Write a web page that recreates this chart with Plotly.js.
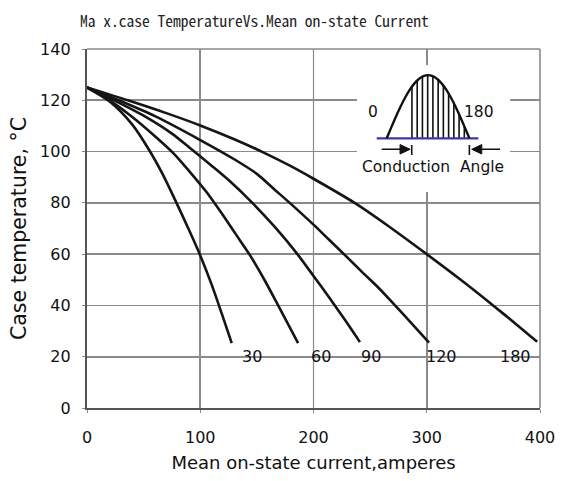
<!DOCTYPE html>
<html>
<head>
<meta charset="utf-8">
<script src="https://cdn.plot.ly/plotly-3.0.1.min.js"></script>
<style>html,body{margin:0;padding:0;background:#fff;}#chart{width:567px;height:481px;}</style>
</head>
<body>
<div id="chart"></div>
<script>
// ---- chart data ----
const curveNames = ['30', '60', '90', '120', '180'];

const x30  = [0, 20, 40, 55, 67, 79, 90, 100, 110, 119, 127.8];
const y30  = [125, 119.5, 110.5, 100.5, 91, 80, 69.5, 59.5, 48.2, 36.8, 25.3];

const x60  = [0, 20, 40, 60, 76, 90, 105, 118, 131, 143.3, 156, 168.2, 178, 186.4];
const y60  = [125, 120, 113.5, 106, 99.5, 92.5, 84.5, 76.5, 68, 60, 50.5, 40.5, 32.3, 25.3];

const x90  = [0, 24, 50, 75, 92, 110, 126, 146, 166, 185.8, 200, 214, 228, 241];
const y90  = [125, 120, 114, 107, 101, 94.5, 88.5, 80, 70.5, 60, 51.5, 43, 34.2, 25.7];

const x120 = [0, 28, 60, 100, 130, 150, 165.3, 179, 200, 214, 228, 243, 257.6, 272, 287, 302];
const y120 = [125, 120, 113.8, 104.5, 97, 91.3, 85.3, 80, 71.5, 65.5, 59.5, 53, 46.8, 40, 32.8, 25.5];

const x180 = [0, 36, 70, 100, 130, 156.5, 180, 200, 237, 266, 300, 330, 358.6, 380, 397.5];
const y180 = [125, 120, 115, 110.2, 104.8, 99.5, 94.3, 89.4, 79.8, 71, 60, 50, 40, 32.3, 25.8];

const xTickVals = [0, 100, 200, 300, 400];
const yTickVals = [0, 20, 40, 60, 80, 100, 120, 140];

// curve label anchor points (x in amperes, on the 20 degC line)
const labelX = [146, 207, 251, 313, 378];
const labelY = [20, 20, 20, 20, 20];

// inset schematic (conduction angle in degrees)
const insetWaveDeg = [0, 10, 20, 30, 40, 50, 60, 70, 80, 90, 100, 110, 120, 130, 140, 150, 160, 170, 180];
const insetHatchDeg = [55, 66.4, 77.8, 89.2, 100.6, 112, 123.4, 134.8, 146.2, 157.6, 169];
const insetLabels = ['0', '180', 'Conduction', 'Angle'];

// ---- build traces ----
const xs = [x30, x60, x90, x120, x180];
const ys = [y30, y60, y90, y120, y180];
const traces = [];
for (let i = 0; i < curveNames.length; i++) {
  traces.push({
    type: 'scatter', mode: 'lines', name: curveNames[i],
    x: xs[i], y: ys[i],
    line: {color: '#151515', width: 2.6, shape: 'spline', smoothing: 0.8},
    hoverinfo: 'skip', showlegend: false, xaxis: 'x', yaxis: 'y'
  });
}

// inset: white background
const IX = [-64.7, 268.7], IY = [-0.848, 1.158];
traces.push({
  type: 'scatter', mode: 'lines', x: [IX[0], IX[1], IX[1], IX[0], IX[0]],
  y: [IY[0], IY[0], IY[1], IY[1], IY[0]], fill: 'toself', fillcolor: '#ffffff',
  line: {width: 0, color: 'rgba(0,0,0,0)'}, xaxis: 'x2', yaxis: 'y2', showlegend: false, hoverinfo: 'skip'
});
// hatching
const hx = [], hy = [];
insetHatchDeg.forEach(d => { hx.push(d, d, null); hy.push(0, Math.sin(d * Math.PI / 180), null); });
traces.push({type: 'scatter', mode: 'lines', x: hx, y: hy, line: {color: '#111', width: 1.6},
  xaxis: 'x2', yaxis: 'y2', showlegend: false, hoverinfo: 'skip'});
// baseline
traces.push({type: 'scatter', mode: 'lines', x: [-21.8, 199.6], y: [0, 0], line: {color: '#3b3b9c', width: 2.2},
  xaxis: 'x2', yaxis: 'y2', showlegend: false, hoverinfo: 'skip'});
// half sine wave
traces.push({type: 'scatter', mode: 'lines', x: insetWaveDeg, y: insetWaveDeg.map(d => Math.sin(d * Math.PI / 180)),
  line: {color: '#111', width: 2.4, shape: 'spline'}, xaxis: 'x2', yaxis: 'y2', showlegend: false, hoverinfo: 'skip'});
// arrows: shafts and bars
const ay = -0.174;
traces.push({type: 'scatter', mode: 'lines',
  x: [-10.9, 40, null, 54.5, 54.5, null, 180, 180, null, 195, 246.9],
  y: [ay, ay, null, ay + 0.07, ay - 0.09, null, ay + 0.07, ay - 0.09, null, ay, ay],
  line: {color: '#111', width: 1.6}, xaxis: 'x2', yaxis: 'y2', showlegend: false, hoverinfo: 'skip'});
// arrow heads
traces.push({type: 'scatter', mode: 'lines', fill: 'toself', fillcolor: '#111',
  x: [29, 51, 29, 29, null, 207, 185.2, 207, 207],
  y: [ay + 0.075, ay, ay - 0.075, ay + 0.075, null, ay + 0.075, ay, ay - 0.075, ay + 0.075],
  line: {color: '#111', width: 1}, xaxis: 'x2', yaxis: 'y2', showlegend: false, hoverinfo: 'skip'});

// ---- annotations ----
const font = 'DejaVu Sans, Liberation Sans, Arial, sans-serif';
const annotations = [];
for (let i = 0; i < curveNames.length; i++) {
  annotations.push({x: labelX[i], y: labelY[i], xref: 'x', yref: 'y', text: curveNames[i], showarrow: false,
    font: {family: font, size: 16, color: '#111'}, xanchor: 'center', yanchor: 'middle'});
}
const insetPos = [[-29.2, 0.42], [201.8, 0.42], [41.4, -0.449], [208.3, -0.449]];
insetLabels.forEach((t, i) => {
  annotations.push({x: insetPos[i][0], y: insetPos[i][1], xref: 'x2', yref: 'y2', text: t, showarrow: false,
    font: {family: font, size: 15.5, color: '#111'}, xanchor: 'center', yanchor: 'middle'});
});
// chart title (paper coordinates)
annotations.push({x: (78 - 87) / 453, y: 1 + (49 - 20) / 359, xref: 'paper', yref: 'paper',
  text: 'Ma x.case TemperatureVs.Mean on-state Current',
  showarrow: false, xanchor: 'left', yanchor: 'middle',
  font: {family: 'Noto Sans Mono CJK SC, Liberation Mono, monospace', size: 15.5, color: '#222'}});

const layout = {
  width: 567, height: 481,
  margin: {l: 87, r: 27, t: 49, b: 73, pad: 0},
  paper_bgcolor: '#ffffff', plot_bgcolor: '#ffffff',
  showlegend: false,
  xaxis: {
    range: [0, 400], tickvals: xTickVals, ticktext: xTickVals.map(String),
    showgrid: true, gridcolor: '#8a8a8a', gridwidth: 1.6,
    showline: true, linecolor: '#555', linewidth: 2.2, zeroline: false,
    ticks: 'outside', ticklen: 3, tickcolor: '#8a8a8a', ticklabelstandoff: 11,
    tickfont: {family: font, size: 16, color: '#111'},
    title: {text: 'Mean on-state current,amperes', font: {family: font, size: 18, color: '#111'}, standoff: 10},
    fixedrange: true
  },
  yaxis: {
    range: [0, 140], tickvals: yTickVals, ticktext: yTickVals.map(String),
    showgrid: true, gridcolor: '#8a8a8a', gridwidth: 1.6,
    showline: true, linecolor: '#555', linewidth: 2.2, zeroline: false,
    ticks: 'outside', ticklen: 3, tickcolor: '#8a8a8a', ticklabelstandoff: 8,
    tickfont: {family: font, size: 16, color: '#111'},
    title: {text: 'Case temperature, °C', font: {family: font, size: 20.5, color: '#111'}, standoff: 8},
    fixedrange: true
  },
  xaxis2: {domain: [0.596, 0.934], range: IX, visible: false, anchor: 'y2', fixedrange: true},
  yaxis2: {domain: [0.602, 0.955], range: IY, visible: false, anchor: 'x2', fixedrange: true},
  shapes: [
    {type: 'line', xref: 'x', yref: 'paper', x0: 200, x1: 200, y0: 0, y1: 1, layer: 'between',
      line: {color: '#222', width: 1.1}},
    {type: 'line', xref: 'paper', yref: 'paper', x0: 0, x1: 1, y0: 1, y1: 1, layer: 'between',
      line: {color: '#8a8a8a', width: 1.6}},
    {type: 'line', xref: 'paper', yref: 'paper', x0: 1, x1: 1, y0: 0, y1: 1, layer: 'between',
      line: {color: '#8a8a8a', width: 1.6}}
  ],
  annotations: annotations
};

Plotly.newPlot('chart', traces, layout, {displayModeBar: false, staticPlot: true});
</script>
</body>
</html>
